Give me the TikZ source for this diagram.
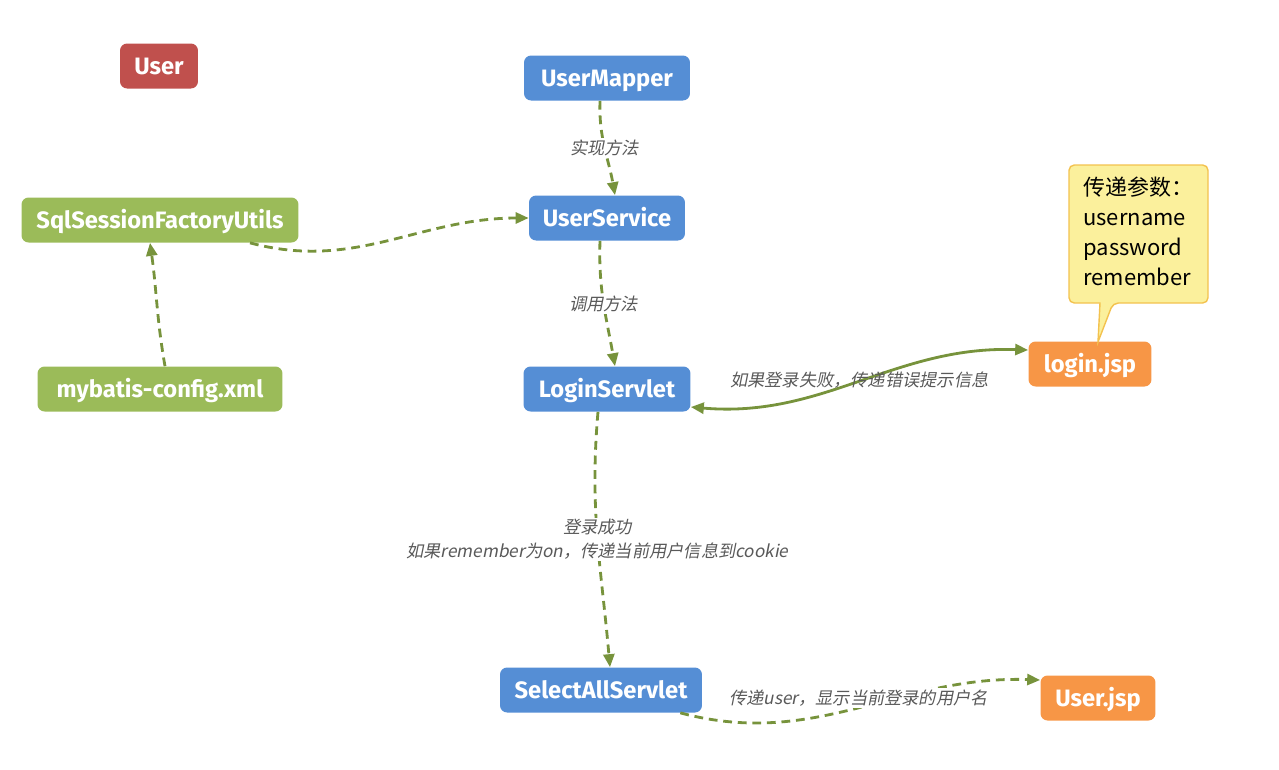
\documentclass[tikz,border=0pt]{standalone}
\usepackage{fontspec}
\setmainfont{Fira Sans}
\newfontfamily\cjk{Noto Sans CJK SC}
\newfontfamily\cjkit[FakeSlant=0.2]{Noto Sans CJK SC}
\usetikzlibrary{arrows.meta,calc,positioning}
\definecolor{BoxRed}{HTML}{C0504D}
\definecolor{BoxBlue}{HTML}{558ED5}
\definecolor{BoxGreen}{HTML}{9BBB59}
\definecolor{BoxOrange}{HTML}{F79646}
\definecolor{FlowClr}{HTML}{77933C}
\definecolor{NoteFill}{HTML}{FBF09C}
\definecolor{NoteLine}{HTML}{F3C24F}
\definecolor{TagClr}{HTML}{595959}
\tikzset{
  box/.style={rounded corners=4pt, text=white, font=\fontsize{13.5}{15}\selectfont\bfseries,
    minimum height=0.9cm, inner sep=0pt, text height=9.3pt, text depth=0pt},
  flow/.style={FlowClr, line width=1.6pt, dash pattern=on 5pt off 3.3pt,
    -{Triangle[length=0.26cm,width=0.22cm]}},
  tag/.style={fill=white, text=TagClr, inner sep=1pt, font=\cjkit\fontsize{9.8}{13.5}\selectfont, align=center}
}
\begin{document}
\begin{tikzpicture}[x=0.02cm,y=-0.02cm]
\useasboundingbox (0,0) rectangle (1279,769);
% boxes
\node[box, fill=BoxRed, minimum width=1.56cm] (user) at (159,66) {User};
\node[box, fill=BoxBlue, minimum width=3.32cm] (mapper) at (607,78) {UserMapper};
\node[box, fill=BoxBlue, minimum width=3.12cm] (service) at (607,218) {UserService};
\node[box, fill=BoxBlue, minimum width=3.34cm] (login) at (607,389) {LoginServlet};
\node[box, fill=BoxBlue, minimum width=4.04cm] (selectall) at (601,690) {SelectAllServlet};
\node[box, fill=BoxGreen, minimum width=5.54cm] (factory) at (160,220) {SqlSessionFactoryUtils};
\node[box, fill=BoxGreen, minimum width=4.9cm] (config) at (160,389) {mybatis-config.xml};
\node[box, fill=BoxOrange, minimum width=2.46cm] (loginjsp) at (1090,364) {login.jsp};
\node[box, fill=BoxOrange, minimum width=2.3cm] (userjsp) at (1098,698) {User.jsp};
% note
\draw[NoteLine, fill=NoteFill, line width=0.8pt, rounded corners=3pt]
  (1069,165) -- (1208,165) -- (1208,303) -- (1113,303) [sharp corners] -- (1098,342) -- (1100,303)
  [rounded corners=3pt] -- (1069,303) -- cycle;
\node[anchor=north west, align=left, inner sep=0pt, font=\cjk\fontsize{12.5}{17}\selectfont] (note) at (1083,177)
  {传递参数：\\username\\password\\remember};
% connectors
\draw[flow] ($(mapper.south)+(-7,0)$) to[out=-92,in=100] node[tag, pos=0.5] {实现方法} ($(service.north)+(8,0)$);
\draw[flow] ($(service.south)+(-7,0)$) to[out=-92,in=100] node[tag, pos=0.5] {调用方法} ($(login.north)+(8,0)$);
\draw[flow] ($(login.south)+(-9,0)$) to[out=-95,in=95] node[tag, pos=0.5] {登录成功\\如果remember为on，传递当前用户信息到cookie} ($(selectall.north)+(9,0)$);
\draw[flow] ($(factory.south)+(90,0)$) to[out=-15,in=180] (service.west);
\draw[flow] ($(config.north)+(5,0)$) to[out=100,in=-82] ($(factory.south)+(-10,0)$);
\draw[flow, solid, {Triangle[length=0.26cm,width=0.22cm]}-{Triangle[length=0.26cm,width=0.22cm]}]
  ($(login.east)+(0,18)$) to[out=-5,in=178] node[tag, fill=none, pos=0.5, yshift=0.03cm] {如果登录失败，传递错误提示信息} ($(loginjsp.west)+(0,-14)$);
\draw[flow] ($(selectall.south east)+(-22,0)$) to[out=-15,in=178] node[tag, pos=0.5, yshift=0.2cm] {传递user，显示当前登录的用户名} ($(userjsp.west)+(0,-18)$);
\end{tikzpicture}
\end{document}
